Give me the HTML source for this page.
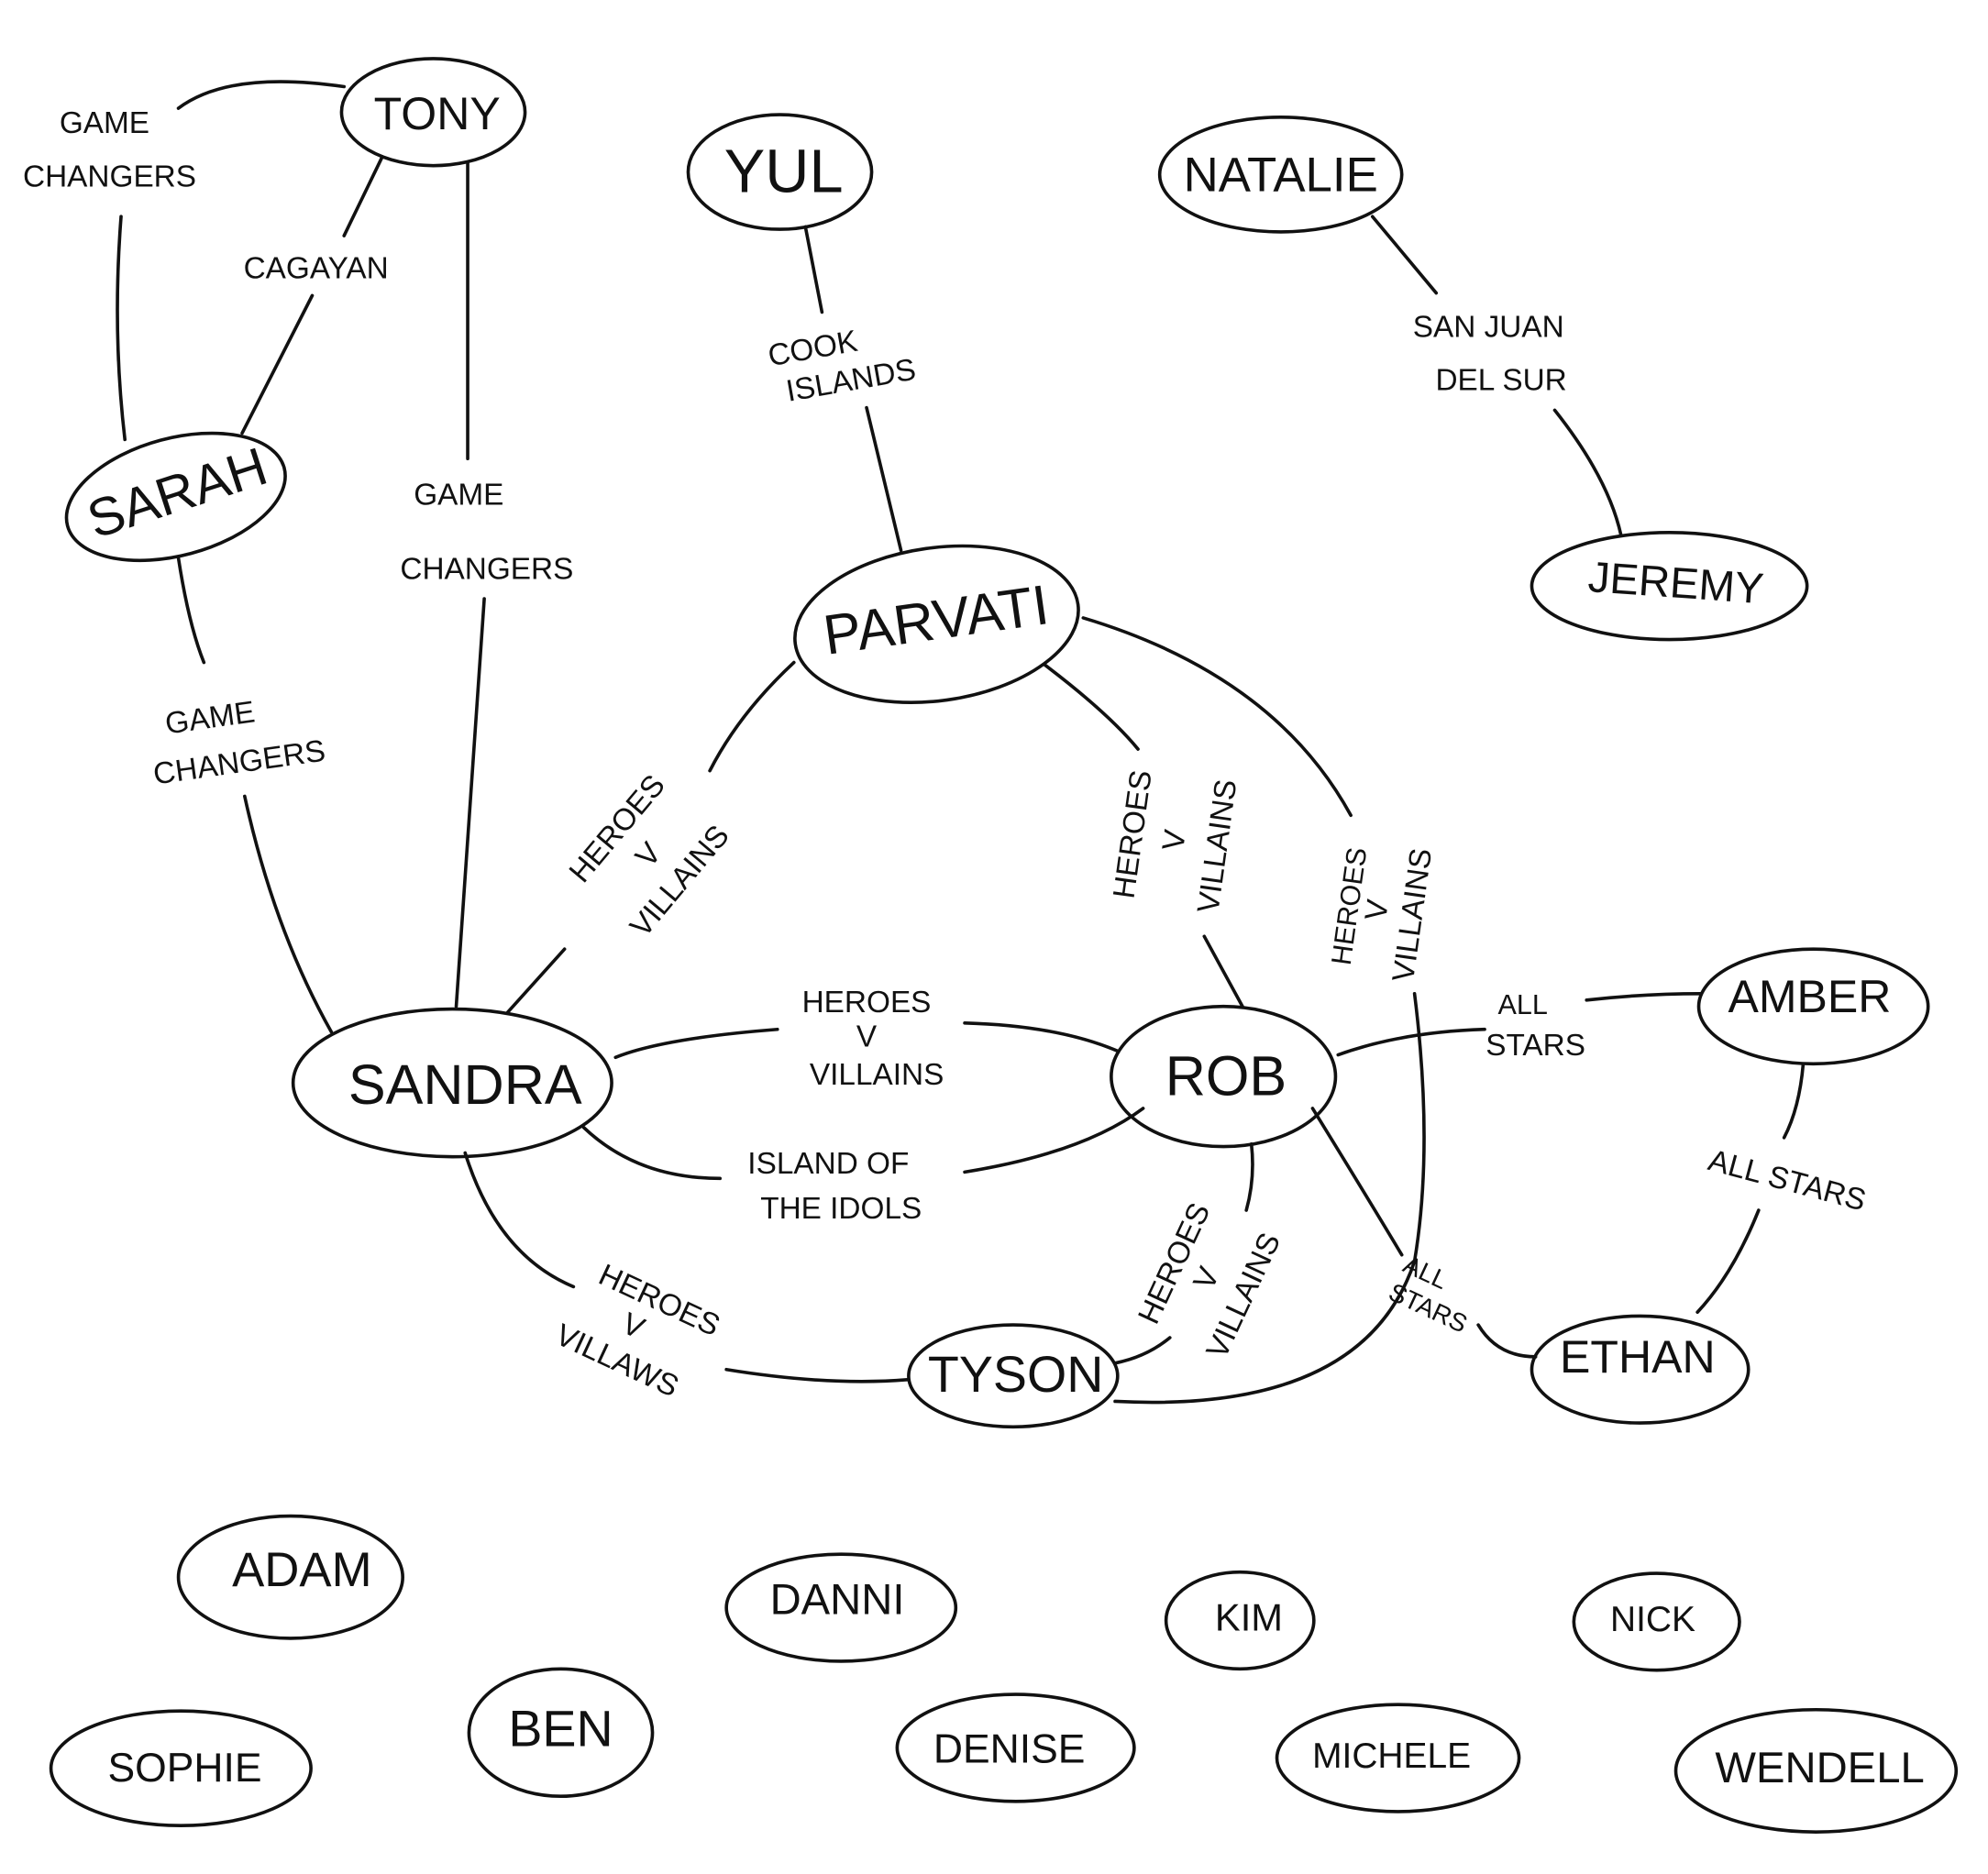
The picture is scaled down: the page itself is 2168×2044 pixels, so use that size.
<!DOCTYPE html>
<html><head><meta charset="utf-8"><style>
html,body{margin:0;padding:0;background:#fff;}
svg{display:block;}
text{font-family:"Liberation Sans",sans-serif;fill:#111;text-anchor:middle;dominant-baseline:middle;}
</style></head><body>
<svg width="2168" height="2044" viewBox="0 0 1560 1471" preserveAspectRatio="none" xmlns="http://www.w3.org/2000/svg">
<g fill="none" stroke="#111" stroke-width="2.6" stroke-linecap="round">
<!-- nodes -->
<ellipse cx="340" cy="88" rx="72" ry="42"/>
<ellipse cx="612" cy="135" rx="72" ry="45"/>
<ellipse cx="1005" cy="137" rx="95" ry="45"/>
<ellipse cx="138" cy="390" rx="88" ry="46" transform="rotate(-15 138 390)"/>
<ellipse cx="735" cy="490" rx="112" ry="60" transform="rotate(-8 735 490)"/>
<ellipse cx="1310" cy="460" rx="108" ry="42"/>
<ellipse cx="355" cy="850" rx="125" ry="58"/>
<ellipse cx="960" cy="845" rx="88" ry="55"/>
<ellipse cx="1423" cy="790" rx="90" ry="45"/>
<ellipse cx="1287" cy="1075" rx="85" ry="42"/>
<ellipse cx="795" cy="1080" rx="82" ry="40"/>
<ellipse cx="228" cy="1238" rx="88" ry="48"/>
<ellipse cx="660" cy="1262" rx="90" ry="42"/>
<ellipse cx="973" cy="1272" rx="58" ry="38"/>
<ellipse cx="1300" cy="1273" rx="65" ry="38"/>
<ellipse cx="142" cy="1388" rx="102" ry="45"/>
<ellipse cx="440" cy="1360" rx="72" ry="50"/>
<ellipse cx="797" cy="1372" rx="93" ry="42"/>
<ellipse cx="1097" cy="1380" rx="95" ry="42"/>
<ellipse cx="1425" cy="1390" rx="110" ry="48"/>
<!-- edges -->
<path d="M270 68 Q180 55 140 85"/>
<path d="M95 170 Q88 260 98 345"/>
<path d="M300 123 L270 185"/>
<path d="M245 232 L190 340"/>
<path d="M367 128 L367 360"/>
<path d="M380 470 L358 790"/>
<path d="M140 438 Q148 490 160 520"/>
<path d="M192 625 Q215 730 260 810"/>
<path d="M632 178 L645 245"/>
<path d="M680 320 L707 432"/>
<path d="M1077 170 L1127 230"/>
<path d="M1220 322 Q1262 375 1272 420"/>
<path d="M623 520 Q580 560 557 605"/>
<path d="M443 745 L398 795"/>
<path d="M820 522 Q870 560 893 588"/>
<path d="M945 735 L975 790"/>
<path d="M850 485 Q1000 530 1060 640"/>
<path d="M1110 780 Q1125 900 1110 990 Q1070 1110 875 1100"/>
<path d="M483 830 Q520 815 610 808"/>
<path d="M757 803 Q830 805 877 825"/>
<path d="M458 885 Q500 925 565 925"/>
<path d="M757 920 Q850 905 897 870"/>
<path d="M365 905 Q390 985 450 1010"/>
<path d="M570 1075 Q650 1088 712 1083"/>
<path d="M982 898 Q985 925 978 950"/>
<path d="M918 1050 Q900 1065 875 1070"/>
<path d="M1050 828 Q1100 810 1165 808"/>
<path d="M1245 785 Q1290 780 1335 780"/>
<path d="M1030 870 Q1070 935 1100 985"/>
<path d="M1160 1040 Q1175 1065 1205 1065"/>
<path d="M1415 835 Q1412 870 1400 893"/>
<path d="M1380 950 Q1360 1000 1332 1030"/>
</g>
<!-- node labels -->
<g font-size="38">
<text x="343" y="92" font-size="36">TONY</text>
<text x="615" y="138" font-size="48">YUL</text>
<text x="1005" y="140" font-size="38">NATALIE</text>
<text x="140" y="390" font-size="42" transform="rotate(-18 140 390)">SARAH</text>
<text x="735" y="490" font-size="44" transform="rotate(-8 735 490)">PARVATI</text>
<text x="1315" y="460" font-size="34" transform="rotate(4 1315 460)">JEREMY</text>
<text x="365" y="855" font-size="44">SANDRA</text>
<text x="962" y="848" font-size="44">ROB</text>
<text x="1420" y="785" font-size="36">AMBER</text>
<text x="1285" y="1068" font-size="36">ETHAN</text>
<text x="797" y="1082" font-size="40">TYSON</text>
<text x="237" y="1235" font-size="38">ADAM</text>
<text x="657" y="1258" font-size="34">DANNI</text>
<text x="980" y="1272" font-size="30">KIM</text>
<text x="1297" y="1273" font-size="28">NICK</text>
<text x="145" y="1390" font-size="32">SOPHIE</text>
<text x="440" y="1360" font-size="40">BEN</text>
<text x="792" y="1375" font-size="32">DENISE</text>
<text x="1092" y="1380" font-size="28">MICHELE</text>
<text x="1428" y="1390" font-size="34">WENDELL</text>
</g>
<!-- edge labels -->
<g font-size="24">
<text x="82" y="98">GAME</text>
<text x="86" y="140">CHANGERS</text>
<text x="248" y="212">CAGAYAN</text>
<text x="360" y="390">GAME</text>
<text x="382" y="448">CHANGERS</text>
<text x="165" y="565" transform="rotate(-8 165 565)">GAME</text>
<text x="188" y="600" transform="rotate(-8 188 600)">CHANGERS</text>
<text x="638" y="275" transform="rotate(-10 638 275)">COOK</text>
<text x="668" y="300" transform="rotate(-10 668 300)">ISLANDS</text>
<text x="1168" y="258">SAN JUAN</text>
<text x="1178" y="300">DEL SUR</text>
<g transform="rotate(-50 510 672)">
<text x="510" y="640">HEROES</text><text x="510" y="672">V</text><text x="510" y="704">VILLAINS</text></g>
<g transform="rotate(-82 925 660)">
<text x="925" y="625">HEROES</text><text x="925" y="658">V</text><text x="925" y="692">VILLAINS</text></g>
<g transform="rotate(-82 1085 715)">
<text x="1085" y="690" font-size="22">HEROES</text><text x="1085" y="712">V</text><text x="1085" y="740">VILLAINS</text></g>
<text x="680" y="788">HEROES</text>
<text x="680" y="815">V</text>
<text x="688" y="845">VILLAINS</text>
<text x="650" y="915">ISLAND OF</text>
<text x="660" y="950">THE IDOLS</text>
<g transform="rotate(25 495 1045)">
<text x="505" y="1015">HEROES</text><text x="495" y="1042">V</text><text x="495" y="1072">VILLAWS</text></g>
<g transform="rotate(-65 950 1005)">
<text x="950" y="975">HEROES</text><text x="950" y="1003">V</text><text x="950" y="1035">VILLAINS</text></g>
<text x="1195" y="790" font-size="22">ALL</text>
<text x="1205" y="822">STARS</text>
<text x="1118" y="1000" font-size="20" transform="rotate(25 1118 1000)">ALL</text>
<text x="1120" y="1028" font-size="20" transform="rotate(25 1120 1028)">STARS</text>
<text x="1402" y="928" transform="rotate(15 1402 928)">ALL STARS</text>
</g>
</svg>
</body></html>
